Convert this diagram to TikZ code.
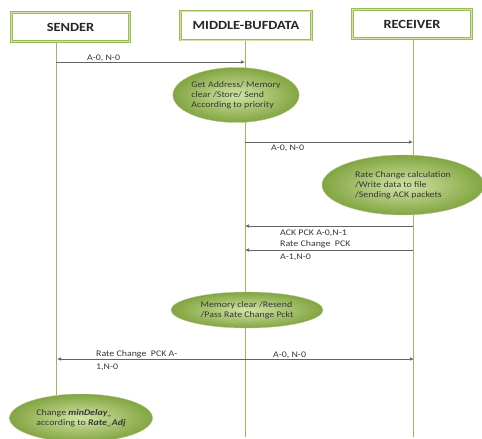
\documentclass[tikz,border=0pt]{standalone}
\usepackage{fontspec}
\setmainfont{Carlito}[FakeStretch=1.15]
\usetikzlibrary{shapes.geometric,arrows.meta}
\definecolor{gline}{RGB}{155,187,89}
\definecolor{gdark}{RGB}{130,165,65}
\definecolor{glight}{RGB}{210,228,165}
\definecolor{txt}{RGB}{55,55,55}
\definecolor{arr}{RGB}{100,100,100}
\tikzset{
  hdr/.style={draw=gline, line width=1.1pt, double=glight, double distance=0.7pt, fill=white, minimum height=29pt, font=\fontsize{12.5}{14}\selectfont\bfseries, text=black!85},
  life/.style={draw=gline, line width=0.9pt},
  proc/.style={ellipse, draw=gdark!60, line width=0.4pt, shading=radial, inner color=glight, outer color=gdark, text=txt, font=\fontsize{8.6}{9.8}\selectfont, align=left, inner sep=0pt},
  msg/.style={draw=arr, line width=0.6pt, -{Latex[length=4pt,width=3.5pt]}, shorten >=0pt},
  lbl/.style={text=txt, font=\fontsize{8.6}{12.5}\selectfont, inner sep=0pt, anchor=base west, align=left},
}
\begin{document}
\begin{tikzpicture}[x=1pt,y=-1pt]
\useasboundingbox (0,0) rectangle (482,439);
% lifelines
\coordinate (sb) at (56,395);
\coordinate (mb) at (245,437);
\coordinate (rb) at (413,437);
\node[hdr, minimum width=118pt] (S) at (70.5,27) {SENDER};
\node[hdr, minimum width=131pt] (M) at (246,25.5) {MIDDLE-BUFDATA};
\node[hdr, minimum width=119pt] (R) at (412,24) {RECEIVER};
\draw[life] (S.south -| sb) -- (sb);
\draw[life] (M.south -| mb) -- (mb);
\draw[life] (R.south -| rb) -- (rb);
% messages
\coordinate (s1) at (56,62); \coordinate (m1) at (245,62);
\draw[msg] (s1) -- (m1);
\node[lbl] (l1) at (87,60) {A-0, N-0};
\node[proc, minimum width=116pt, minimum height=55pt] (E1) at (236,95) {Get Address/ Memory\\clear /Store/ Send\\According to priority};
\coordinate (m2) at (245,142); \coordinate (r2) at (413,142);
\draw[msg] (m2) -- (r2);
\node[lbl] (l2) at (271,150) {A-0, N-0};
\node[proc, minimum width=162pt, minimum height=60pt] (E2) at (403,185) {Rate Change calculation\\/Write data to file\\/Sending ACK packets};
\coordinate (r3) at (413,226); \coordinate (m3) at (245,226);
\draw[msg] (r3) -- (m3);
\node[lbl] (l3) at (280,235) {ACK PCK A-0,N-1};
\coordinate (r4) at (413,250); \coordinate (m4) at (245,250);
\draw[msg] (r4) -- (m4);
\node[lbl] (l4) at (280,259) {Rate Change~~PCK\\A-1,N-0};
\node[proc, minimum width=152pt, minimum height=36pt] (E3) at (247,310) {Memory clear /Resend\\/Pass Rate Change Pckt};
\coordinate (s5) at (57,359); \coordinate (r5) at (414,359);
\draw[msg, {Latex[length=4pt,width=3.5pt]}-{Latex[length=4pt,width=3.5pt]}] (s5) -- (r5);
\node[lbl] (l5) at (273,357) {A-0, N-0};
\node[lbl] (l6) at (96,369) {Rate Change~~PCK A-\\1,N-0};
\node[proc, minimum width=143pt, minimum height=48pt] (E4) at (81,418) {Change \textbf{\textit{minDelay\_}}\\according to \textbf{\textit{Rate\_Adj}}};
\end{tikzpicture}
\end{document}
